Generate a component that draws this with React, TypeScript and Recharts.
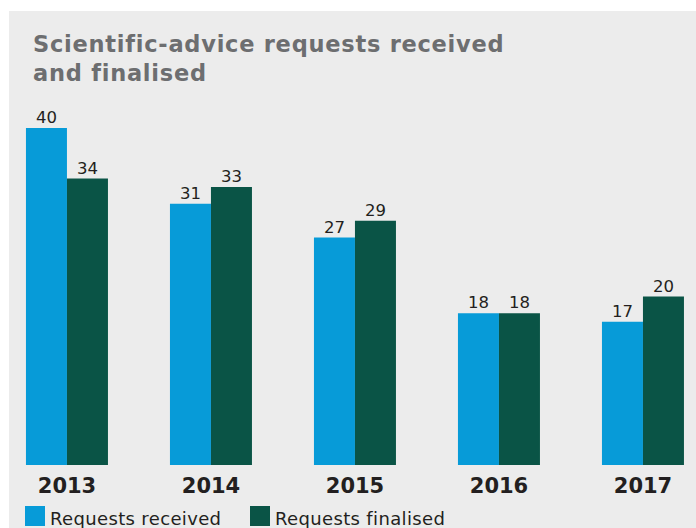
import { Bar, BarChart, LabelList, XAxis, YAxis } from "recharts";

const years = ["2013", "2014", "2015", "2016", "2017"];
const received = [40, 31, 27, 18, 17];
const finalised = [34, 33, 29, 18, 20];

const seriesNames = ["Requests received", "Requests finalised"];
const seriesColors = ["#079bd8", "#0a5446"];

const data = years.map((year, i) => ({
  year,
  received: received[i],
  finalised: finalised[i],
}));

const font = "'DejaVu Sans', Verdana, sans-serif";

export default function App() {
  return (
    <div
      style={{
        position: "absolute",
        left: 0,
        top: 0,
        width: 696,
        height: 528,
        overflow: "hidden",
        background: "#ffffff",
        fontFamily: font,
      }}
    >
      <div
        style={{
          position: "absolute",
          left: 9,
          top: 11,
          right: 0,
          bottom: 0,
          background: "#ececec",
        }}
      />
      <div
        style={{
          position: "absolute",
          left: 33,
          top: 30,
          fontSize: 22.5,
          fontWeight: "bold",
          letterSpacing: 0.75,
          lineHeight: "29px",
          color: "#6d6e70",
        }}
      >
        Scientific-advice requests received
        <br />
        and finalised
      </div>
      <div style={{ position: "absolute", left: -5, top: 0 }}>
        <BarChart
          width={720}
          height={528}
          data={data}
          margin={{ top: 128, right: 0, bottom: 33, left: 0 }}
          barCategoryGap="21.5%"
          barGap={0}
        >
          <YAxis hide domain={[0, 40]} />
          <XAxis
            dataKey="year"
            axisLine={false}
            tickLine={false}
            height={30}
            tickMargin={7}
            tick={{ fill: "#231f20", fontSize: 21, fontWeight: "bold", fontFamily: font }}
          />
          <Bar dataKey="received" fill={seriesColors[0]} isAnimationActive={false}>
            <LabelList dataKey="received" position="top" fill="#231f20" fontSize={16.5} fontFamily={font} />
          </Bar>
          <Bar dataKey="finalised" fill={seriesColors[1]} isAnimationActive={false}>
            <LabelList dataKey="finalised" position="top" fill="#231f20" fontSize={16.5} fontFamily={font} />
          </Bar>
        </BarChart>
      </div>
      {seriesNames.map((name, i) => (
        <div
          key={name}
          style={{
            position: "absolute",
            left: i === 0 ? 25 : 250,
            top: 505,
            display: "flex",
            alignItems: "center",
            fontSize: 18,
            letterSpacing: 0.35,
            color: "#231f20",
            whiteSpace: "nowrap",
          }}
        >
          <span style={{ width: 20, height: 20, background: seriesColors[i], marginRight: 5 }} />
          <span style={{ position: "relative", top: 3 }}>{name}</span>
        </div>
      ))}
    </div>
  );
}
